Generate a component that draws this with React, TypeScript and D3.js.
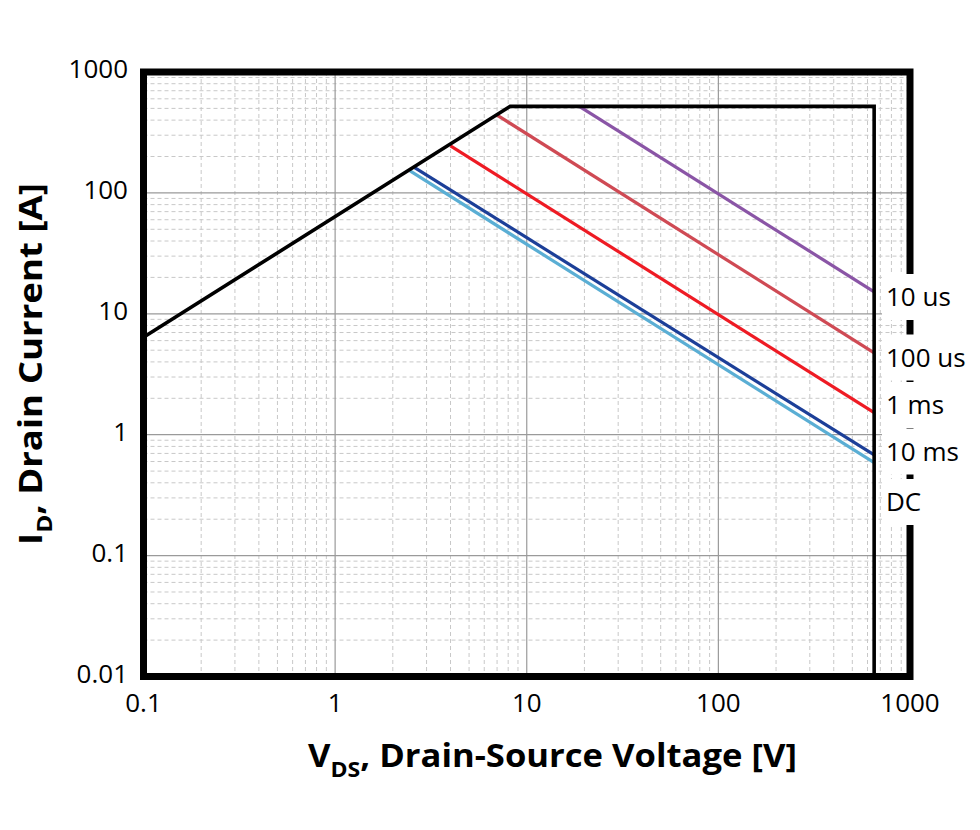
import React, { useLayoutEffect, useRef, useState } from "react";
import * as d3 from "d3";

// Safe operating area boundary (RDS(on) limit, current limit, voltage limit)
const boundaryV = [0.1, 8.2, 650, 650];
const boundaryI = [6.4, 520, 520, 0.01];

// Pulse-width limited lines
const pulseNames = ["10 us", "100 us", "1 ms", "10 ms", "DC"];
const pulseStartV = [18.8, 7.0, 4.0, 2.6, 2.46];
const pulseStartI = [520, 440, 245, 162, 152];
const pulseEndV = [650, 650, 650, 650, 650];
const pulseEndI = [15.2, 4.75, 1.52, 0.68, 0.587];
const pulseColors = ["#8a55a6", "#cf4a54", "#ee1b24", "#1c3f98", "#5aaed4"];

const xTicks = [0.1, 1, 10, 100, 1000];
const xTickLabels = ["0.1", "1", "10", "100", "1000"];
const yTicks = [0.01, 0.1, 1, 10, 100, 1000];
const yTickLabels = ["0.01", "0.1", "1", "10", "100", "1000"];

const W = 980;
const H = 830;
const plot = { left: 143.5, right: 910, top: 72, bottom: 676.5 };
// vertical centres of the curve labels on the right edge
const labelCenters = [297, 357.5, 405, 451.5, 502];

const FONT = "'Open Sans', 'Noto Sans', sans-serif";

// Axis title: main text with a subscript, squeezed horizontally to a target width
function Title({
  x,
  y,
  rotate,
  width,
  main,
  sub,
  rest,
}: {
  x: number;
  y: number;
  rotate: number;
  width: number;
  main: string;
  sub: string;
  rest: string;
}) {
  const ref = useRef<SVGTextElement>(null);
  const [k, setK] = useState(1);
  useLayoutEffect(() => {
    if (ref.current) {
      const w = ref.current.getBBox().width;
      if (w > 0) setK(width / w);
    }
  }, [width]);
  return (
    <g transform={`translate(${x},${y}) rotate(${rotate}) scale(${k},1)`}>
      <text ref={ref} x={0} y={0} fontFamily={FONT} fontWeight={700} fontSize={33} fill="#000">
        {main}
        <tspan fontSize={22} dy={10}>
          {sub}
        </tspan>
        <tspan dy={-10}>{rest}</tspan>
      </text>
    </g>
  );
}

export default function App() {
  const x = d3.scaleLog().domain([0.1, 1000]).range([plot.left, plot.right]);
  const y = d3.scaleLog().domain([0.01, 1000]).range([plot.bottom, plot.top]);

  const minorX: number[] = [];
  for (let e = -1; e < 3; e++) for (let k = 2; k <= 9; k++) minorX.push(k * Math.pow(10, e));
  const minorY: number[] = [];
  for (let e = -2; e < 3; e++) for (let k = 2; k <= 9; k++) minorY.push(k * Math.pow(10, e));

  const line = d3
    .line<[number, number]>()
    .x((d) => x(d[0]))
    .y((d) => y(d[1]));

  const boundary: [number, number][] = boundaryV.map((v, i) => [v, boundaryI[i]]);

  return (
    <svg
      width={W}
      height={H}
      viewBox={`0 0 ${W} ${H}`}
      style={{ position: "absolute", left: 0, top: 0, background: "#fff" }}
    >
      <rect x={0} y={0} width={W} height={H} fill="#fff" />
      {/* minor grid */}
      <g stroke="#c8c8c8" strokeWidth={1} strokeDasharray="4 3">
        {minorX.map((v) => (
          <line key={"mx" + v} x1={x(v)} x2={x(v)} y1={plot.top} y2={plot.bottom} />
        ))}
        {minorY.map((v) => (
          <line key={"my" + v} x1={plot.left} x2={plot.right} y1={y(v)} y2={y(v)} />
        ))}
      </g>
      {/* major grid */}
      <g stroke="#9a9a9a" strokeWidth={1.2}>
        {xTicks.map((v) => (
          <line key={"Mx" + v} x1={x(v)} x2={x(v)} y1={plot.top} y2={plot.bottom} />
        ))}
        {yTicks.map((v) => (
          <line key={"My" + v} x1={plot.left} x2={plot.right} y1={y(v)} y2={y(v)} />
        ))}
      </g>

      {/* pulse lines */}
      {pulseNames.map((n, i) => (
        <path
          key={n}
          d={line([
            [pulseStartV[i], pulseStartI[i]],
            [pulseEndV[i], pulseEndI[i]],
          ]) as string}
          fill="none"
          stroke={pulseColors[i]}
          strokeWidth={3.2}
        />
      ))}

      {/* SOA boundary */}
      <path
        d={line(boundary) as string}
        fill="none"
        stroke="#000"
        strokeWidth={3.6}
        strokeLinejoin="miter"
      />

      {/* frame */}
      <rect
        x={plot.left}
        y={plot.top}
        width={plot.right - plot.left}
        height={plot.bottom - plot.top}
        fill="none"
        stroke="#000"
        strokeWidth={7}
      />

      {/* curve labels */}
      {pulseNames.map((n, i) => (
        <g key={"lab" + n}>
          <rect x={882} y={labelCenters[i] - 23} width={90} height={46} fill="#fff" />
          <text
            x={886}
            y={labelCenters[i]}
            dy="0.36em"
            fontFamily={FONT}
            fontSize={26}
            fill="#000"
          >
            {n}
          </text>
        </g>
      ))}

      {/* y tick labels */}
      {yTicks.map((v, i) => (
        <text
          key={"yt" + v}
          x={128}
          y={y(v) - 3}
          dy="0.36em"
          textAnchor="end"
          fontFamily={FONT}
          fontSize={26}
          fill="#000"
        >
          {yTickLabels[i]}
        </text>
      ))}

      {/* x tick labels */}
      {xTicks.map((v, i) => (
        <text
          key={"xt" + v}
          x={x(v)}
          y={712}
          textAnchor="middle"
          fontFamily={FONT}
          fontSize={26}
          fill="#000"
        >
          {xTickLabels[i]}
        </text>
      ))}

      <Title
        x={308}
        y={767}
        rotate={0}
        width={489}
        main="V"
        sub="DS"
        rest=", Drain-Source Voltage [V]"
      />
      <Title
        x={42}
        y={545}
        rotate={-90}
        width={362}
        main="I"
        sub="D"
        rest=", Drain Current [A]"
      />
    </svg>
  );
}
